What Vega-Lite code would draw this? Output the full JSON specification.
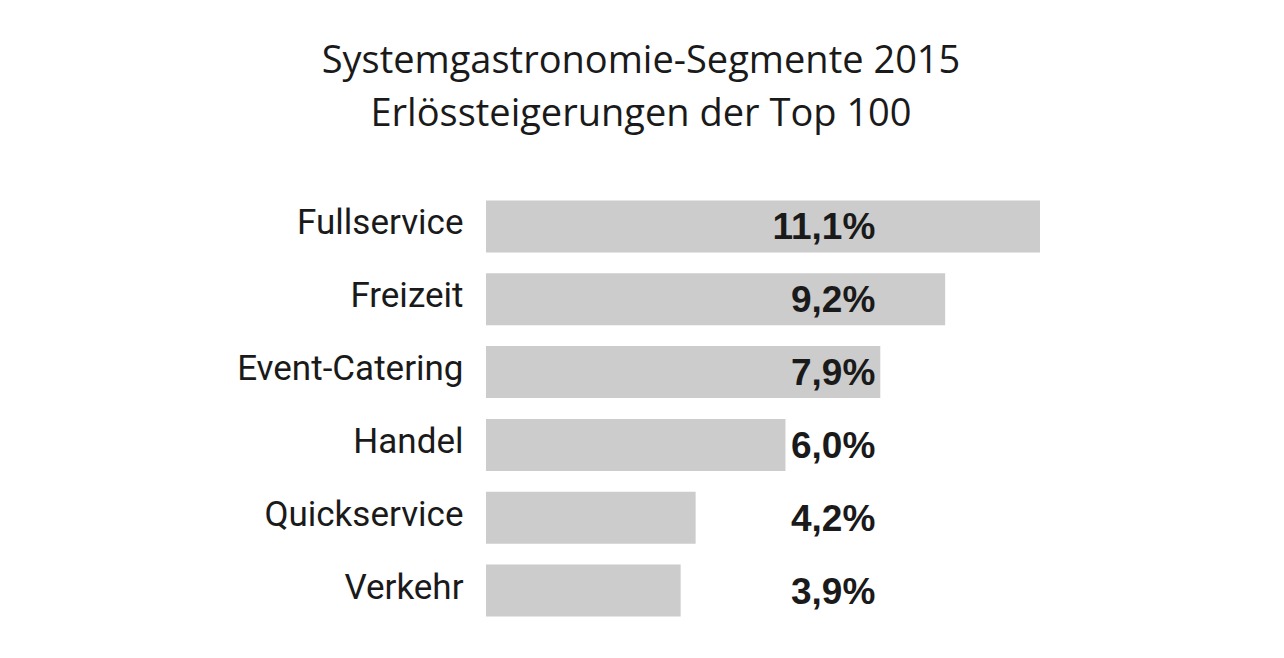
{
  "$schema": "https://vega.github.io/schema/vega-lite/v6.json",
  "width": 554,
  "height": 437,
  "autosize": {"type": "none"},
  "padding": {"left": 486, "top": 190, "right": 244, "bottom": 31},
  "background": "white",
  "title": {
    "text": ["Systemgastronomie-Segmente 2015", "Erlössteigerungen der Top 100"],
    "font": "Open Sans",
    "fontSize": 38,
    "fontWeight": "normal",
    "color": "#1a1a1a",
    "anchor": "middle",
    "frame": "group",
    "dx": -122,
    "lineHeight": 53,
    "offset": 56
  },
  "data": {
    "values": [
      {"segment": "Fullservice", "value": 11.1, "label": "11,1%"},
      {"segment": "Freizeit", "value": 9.2, "label": "9,2%"},
      {"segment": "Event-Catering", "value": 7.9, "label": "7,9%"},
      {"segment": "Handel", "value": 6.0, "label": "6,0%"},
      {"segment": "Quickservice", "value": 4.2, "label": "4,2%"},
      {"segment": "Verkehr", "value": 3.9, "label": "3,9%"}
    ]
  },
  "encoding": {
    "y": {
      "field": "segment",
      "type": "nominal",
      "sort": null,
      "scale": {"paddingInner": 0.286, "paddingOuter": 0.143},
      "axis": {
        "title": null,
        "ticks": false,
        "domain": false,
        "labelPadding": 23,
        "labelLimit": 0,
        "labelOffset": -3,
        "labelFont": "Roboto",
        "labelFontSize": 35,
        "labelColor": "#1a1a1a"
      }
    }
  },
  "layer": [
    {
      "mark": {"type": "bar", "color": "#cccccc"},
      "encoding": {
        "x": {
          "field": "value",
          "type": "quantitative",
          "scale": {"domain": [0, 11.1], "nice": false, "zero": true},
          "axis": null
        }
      }
    },
    {
      "mark": {
        "type": "text",
        "align": "right",
        "baseline": "middle",
        "font": "Liberation Sans",
        "fontWeight": "bold",
        "fontSize": 37,
        "color": "#1a1a1a",
        "dy": 2
      },
      "encoding": {
        "x": {"datum": 7.8, "type": "quantitative"},
        "text": {"field": "label"}
      }
    }
  ],
  "config": {"view": {"stroke": null}}
}
